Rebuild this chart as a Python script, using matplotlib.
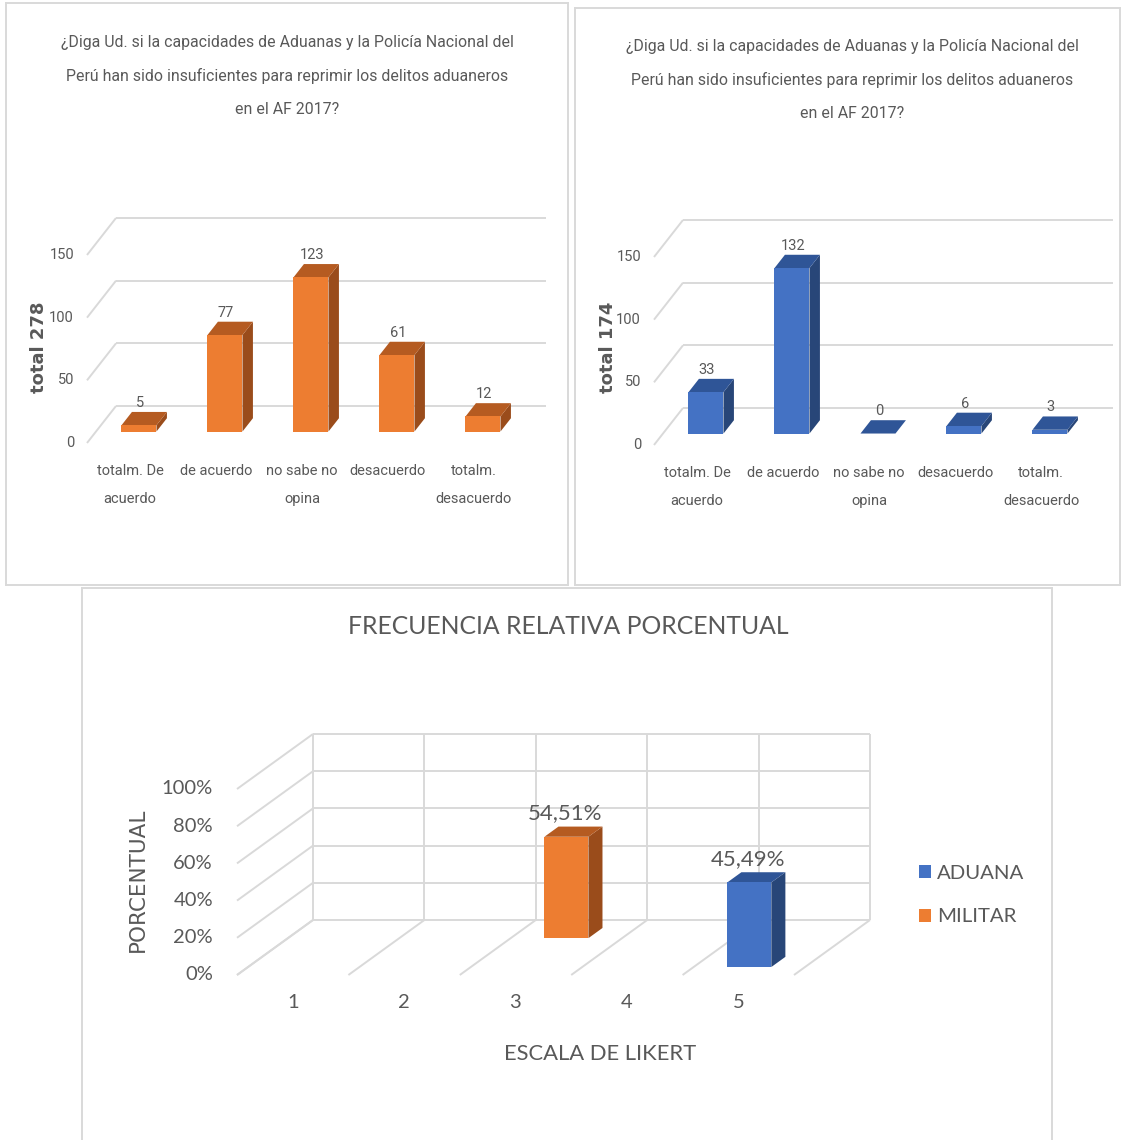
import matplotlib
matplotlib.use('Agg')
import matplotlib.pyplot as plt
from matplotlib.patches import Patch

# ---- datos ----
titulo = ['¿Diga Ud. si la capacidades de Aduanas y la Policía Nacional del',
          'Perú han sido insuficientes para reprimir los delitos aduaneros',
          'en el AF 2017?']
categorias = ['totalm. De\nacuerdo', 'de acuerdo', 'no sabe no\nopina',
              'desacuerdo', 'totalm.\ndesacuerdo']
militar = [5, 77, 123, 61, 12]
aduana = [33, 132, 0, 6, 3]
ticks_total = [0, 50, 100, 150]

escala = ['1', '2', '3', '4', '5']
series = ['ADUANA', 'MILITAR']
pct_aduana = [None, None, None, None, 45.49]
pct_militar = [None, None, 54.51, None, None]
ticks_pct = [0, 20, 40, 60, 80, 100]

W, H = 1124, 1140
GRIS = '#595959'
GRID = '#D9D9D9'
NARROW = ['Roboto', 'DejaVu Sans']
CAL = ['Lato', 'DejaVu Sans']

# frente, tapa, lado
NARANJA = ('#ED7D31', '#B55B21', '#9A4C1B')
AZUL = ('#4472C4', '#2F5597', '#284678')

fig = plt.figure(figsize=(W / 100, H / 100), dpi=100)


def panel(box, origin, sx, sy):
    # box en pixeles (izq, arriba, der, abajo); origin = pixel del (0, 0) frontal
    l, t, r, b = box
    ax = fig.add_axes([l / W, 1 - b / H, (r - l) / W, (b - t) / H])
    ax.set_xlim((l - origin[0]) / sx, (r - origin[0]) / sx)
    ax.set_ylim((origin[1] - b) / sy, (origin[1] - t) / sy)
    ax.set_xticks([])
    ax.set_yticks([])
    for s in ax.spines.values():
        s.set_color(GRID)
        s.set_linewidth(1.4)
    return ax


def linea(ax, xs, ys):
    ax.plot(xs, ys, color=GRID, lw=1.4, zorder=1, solid_capstyle='butt')


def barra3d(ax, x, v, w, t0, dt, dep, col):
    fx, fy = dep[0] * t0, dep[1] * t0
    dX, dY = dep[0] * dt, dep[1] * dt
    xl, xr = x - w / 2 + fx, x + w / 2 + fx
    yb, yt = fy, v + fy
    ax.fill([xr, xr + dX, xr + dX, xr], [yb, yb + dY, yt + dY, yt],
            color=col[2], lw=0, zorder=3)
    ax.fill([xl, xr, xr + dX, xl + dX], [yt, yt, yt + dY, yt + dY],
            color=col[1], lw=0, zorder=3)
    ax.bar(x + fx, v, w, bottom=yb, color=col[0], lw=0, zorder=4)
    return x + fx, yt + dY


def grafico_total(box, origin, valores, col, etiqueta, titulo_x, titulo_y):
    sx, sy = 86.0, 188 / 150
    ax = panel(box, origin, sx, sy)
    dep = (29 / sx, 37 / sy)
    n = len(valores)
    for v in ticks_total:
        linea(ax, [0, dep[0]], [v, v + dep[1]])
        linea(ax, [dep[0], n + dep[0]], [v + dep[1], v + dep[1]])
        ax.text(-13 / sx, v, str(v), ha='right', va='center', fontsize=10.5,
                color=GRIS, family=NARROW)
    for i, v in enumerate(valores):
        cx, top = barra3d(ax, i + 0.5, v, 35 / sx, 0.31, 0.36, dep, col)
        ax.text(cx + 1 / sx, top + 2 / sy, str(v), ha='center', va='bottom',
                fontsize=10.5, color=GRIS, family=NARROW, zorder=5)
    for i, c in enumerate(categorias):
        for k, parte in enumerate(c.split('\n')):
            ax.text(i + 0.5, -(28 + 28 * k) / sy, parte, ha='center', va='center',
                    fontsize=10.5, color=GRIS, family=NARROW)
    for k, t in enumerate(titulo):
        fig.text(titulo_x / W, 1 - (titulo_y + 34 * k) / H, t, ha='center',
                 va='center', fontsize=11.4, color=GRIS, family=NARROW)
    fig.text((box[0] + 33) / W, 1 - 347 / H, etiqueta, rotation=90, ha='center',
             va='center', fontsize=13, fontweight='bold', color=GRIS,
             family='DejaVu Sans')
    return ax


grafico_total((6, 3, 568, 585), (87, 443), militar, NARANJA, 'total 278', 287, 42)
grafico_total((575, 8, 1120, 585), (654, 445), aduana, AZUL, 'total 174', 852, 46)

# ---- frecuencia relativa porcentual ----
sx, sy = 111.4, 1.86
ax = panel((82, 588, 1052, 1150), (237, 975), sx, sy)
dep = (76 / sx, 55 / sy)
n = len(escala)
for v in ticks_pct:
    linea(ax, [0, dep[0]], [v, v + dep[1]])
    linea(ax, [dep[0], n + dep[0]], [v + dep[1], v + dep[1]])
    ax.text(-24 / sx, v, f'{v}%', ha='right', va='center', fontsize=14.5,
            color=GRIS, family=CAL)
for k in range(n + 1):
    linea(ax, [k + dep[0], k + dep[0]], [dep[1], ticks_pct[-1] + dep[1]])
    linea(ax, [k, k + dep[0]], [0, dep[1]])
for i, e in enumerate(escala):
    ax.text(i + 0.5, -28 / sy, e, ha='center', va='center', fontsize=14.5,
            color=GRIS, family=CAL)

for vals, col, t0 in [(pct_militar, NARANJA, 0.67), (pct_aduana, AZUL, 0.145)]:
    for i, v in enumerate(vals):
        if v is None:
            continue
        cx, top = barra3d(ax, i + 0.5, v, 44 / sx, t0, 0.185, dep, col)
        ax.text(cx - 1 / sx, top + 3 / sy, f'{v:.2f}%'.replace('.', ','),
                ha='center', va='bottom', fontsize=16, color=GRIS, family=CAL,
                zorder=5)

fig.text(568 / W, 1 - 626 / H, 'FRECUENCIA RELATIVA PORCENTUAL', ha='center',
         va='center', fontsize=17.8, color=GRIS, family=CAL)
fig.text(138 / W, 1 - 880 / H, 'PORCENTUAL', rotation=90, ha='center',
         va='center', fontsize=15.5, color=GRIS, family='DejaVu Sans')
fig.text(600 / W, 1 - 1054 / H, 'ESCALA DE LIKERT', ha='center', va='center',
         fontsize=15.8, color=GRIS, family=CAL)

fig.legend(handles=[Patch(facecolor=AZUL[0]), Patch(facecolor=NARANJA[0])],
           labels=series, loc='center left',
           bbox_to_anchor=(919 / W, 1 - 895 / H), frameon=False,
           borderpad=0, borderaxespad=0, handlelength=0.6, handleheight=0.6,
           handletextpad=0.3, labelspacing=1.3,
           prop={'family': CAL, 'size': 14.7}, labelcolor=GRIS)

fig.savefig('out.png', dpi=100)
